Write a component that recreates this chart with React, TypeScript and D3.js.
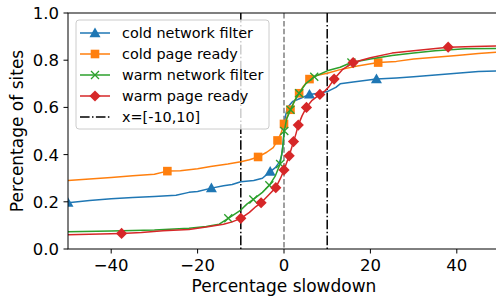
import * as d3 from 'd3';
import * as React from 'react';

type Pt = [number, number];

// cumulative share of sites against slowdown (%)
const coldNetwork: Pt[] = [
  [-50, 0.196], [-45, 0.205], [-40, 0.213], [-35, 0.218], [-30, 0.222], [-25, 0.228],
  [-22, 0.24], [-20, 0.244], [-16.8, 0.258], [-14, 0.268], [-12, 0.273], [-10, 0.285],
  [-7, 0.29], [-5, 0.3], [-3.2, 0.328], [-2, 0.345], [-1, 0.37], [-0.5, 0.4], [-0.2, 0.45],
  [0, 0.5], [0.3, 0.56], [0.8, 0.6], [2, 0.625], [4, 0.64], [5.9, 0.655], [8, 0.66],
  [10, 0.667], [12, 0.685], [13, 0.7], [16, 0.708], [21.4, 0.72], [26, 0.725], [30, 0.73],
  [35, 0.737], [40, 0.745], [45, 0.752], [50, 0.755],
];
const coldNetworkMarks = [0, 8, 14, 24, 30];

const coldPage: Pt[] = [
  [-50, 0.29], [-45, 0.297], [-40, 0.303], [-35, 0.31], [-30, 0.317], [-27, 0.33],
  [-24, 0.332], [-20, 0.34], [-17, 0.35], [-13, 0.36], [-10, 0.37], [-8, 0.378],
  [-6, 0.39], [-4, 0.41], [-2.5, 0.43], [-1.5, 0.46], [-0.7, 0.49], [0, 0.53], [0.7, 0.56],
  [1.5, 0.59], [2.5, 0.63], [3.5, 0.66], [4.5, 0.69], [5.9, 0.72], [7.5, 0.735], [10, 0.745],
  [13, 0.76], [17, 0.775], [21.8, 0.79], [26, 0.795], [30, 0.805], [35, 0.812], [40, 0.82],
  [45, 0.828], [50, 0.835],
];
const coldPageMarks = [5, 12, 15, 17, 19, 21, 23, 28];

const warmNetwork: Pt[] = [
  [-50, 0.073], [-40, 0.076], [-30, 0.08], [-22, 0.088], [-18, 0.095], [-15, 0.105],
  [-12.9, 0.13], [-10, 0.165], [-8.6, 0.19], [-7.1, 0.21], [-5, 0.24], [-3.4, 0.27],
  [-2, 0.31], [-0.9, 0.36], [-0.3, 0.43], [0.07, 0.5], [0.6, 0.55], [1.5, 0.59], [2.5, 0.63],
  [3.5, 0.66], [5, 0.7], [7, 0.73], [10, 0.755], [13, 0.77], [15.6, 0.79], [20, 0.805],
  [25, 0.82], [30, 0.83], [35, 0.84], [42, 0.848], [50, 0.85],
];
const warmNetworkMarks = [6, 9, 11, 13, 15, 17, 19, 21, 24];

const warmPage: Pt[] = [
  [-50, 0.06], [-45, 0.062], [-37.6, 0.066], [-33, 0.07], [-28, 0.077], [-22, 0.083],
  [-18, 0.093], [-14, 0.105], [-12, 0.115], [-10, 0.13], [-8, 0.155], [-6.5, 0.18],
  [-5.3, 0.196], [-3.5, 0.23], [-1.9, 0.26], [-0.8, 0.3], [0, 0.335], [0.5, 0.36],
  [1.2, 0.395], [1.7, 0.425], [2.2, 0.455], [2.8, 0.49], [3.3, 0.525], [4.2, 0.565],
  [5.2, 0.6], [6.5, 0.63], [8.3, 0.655], [9.5, 0.67], [10.5, 0.69], [11.6, 0.72],
  [13.5, 0.76], [16, 0.79], [20, 0.81], [25, 0.83], [30, 0.84], [38, 0.855], [44, 0.858],
  [50, 0.86],
];
const warmPageMarks = [2, 9, 12, 14, 16, 18, 20, 22, 24, 26, 29, 31, 35];

const seriesNames = ['cold network filter', 'cold page ready', 'warm network filter', 'warm page ready'];
const seriesColors = ['#1f77b4', '#ff7f0e', '#2ca02c', '#d62728'];
const seriesShapes = ['triangle', 'square', 'x', 'diamond'];
const boundsLabel = 'x=[-10,10]';
const bounds = [-10, 10];

const xTicks = [-40, -20, 0, 20, 40];
const yTicks = [0, 0.2, 0.4, 0.6, 0.8, 1.0];

const W = 496;
const H = 299;
const margin = { left: 68, top: 13, right: 500, bottom: 249 };
const font = 'DejaVu Sans, sans-serif';

function Marker({ shape, x, y, color }: { shape: string; x: number; y: number; color: string }) {
  if (shape === 'triangle') {
    const r = 5.5;
    return <path d={`M${x},${y - r}L${x + r},${y + r * 0.75}L${x - r},${y + r * 0.75}Z`} fill={color} />;
  }
  if (shape === 'square') {
    const r = 4.3;
    return <rect x={x - r} y={y - r} width={r * 2} height={r * 2} fill={color} />;
  }
  if (shape === 'diamond') {
    const r = 5.6;
    return <path d={`M${x},${y - r}L${x + r},${y}L${x},${y + r}L${x - r},${y}Z`} fill={color} />;
  }
  const r = 4;
  return (
    <path d={`M${x - r},${y - r}L${x + r},${y + r}M${x - r},${y + r}L${x + r},${y - r}`}
      stroke={color} strokeWidth={1.3} fill="none" />
  );
}

export default function App() {
  const x = d3.scaleLinear().domain([-50, 50]).range([margin.left, margin.right]);
  const y = d3.scaleLinear().domain([0, 1]).range([margin.bottom, margin.top]);
  const line = d3.line<Pt>().x((d) => x(d[0])).y((d) => y(d[1]));

  const series = [
    { data: coldNetwork, marks: coldNetworkMarks },
    { data: coldPage, marks: coldPageMarks },
    { data: warmNetwork, marks: warmNetworkMarks },
    { data: warmPage, marks: warmPageMarks },
  ];

  const legX = 76;
  const legY = 20;
  const rowH = 21;

  return (
    <svg width={W} height={H} style={{ position: 'absolute', left: 0, top: 0 }} fontFamily={font}>
      <defs>
        <clipPath id="plot">
          <rect x={margin.left} y={margin.top} width={margin.right - margin.left} height={margin.bottom - margin.top} />
        </clipPath>
      </defs>
      <rect width={W} height={H} fill="#fff" />
      <g clipPath="url(#plot)">
        <line x1={x(0)} x2={x(0)} y1={margin.top} y2={margin.bottom} stroke="#808080" strokeWidth={1.5} strokeDasharray="5.5,2.4" />
        {bounds.map((b) => (
          <line key={b} x1={x(b)} x2={x(b)} y1={margin.top} y2={margin.bottom} stroke="#000" strokeWidth={1.5} strokeDasharray="9.6,2.4,1.5,2.4" />
        ))}
        {series.map((s, i) => (
          <g key={i}>
            <path d={line(s.data) || ''} fill="none" stroke={seriesColors[i]} strokeWidth={1.5} strokeLinejoin="round" />
            {s.marks.map((m) => (
              <Marker key={m} shape={seriesShapes[i]} x={x(s.data[m][0])} y={y(s.data[m][1])} color={seriesColors[i]} />
            ))}
          </g>
        ))}
      </g>
      {/* spines */}
      <rect x={margin.left} y={margin.top} width={margin.right - margin.left} height={margin.bottom - margin.top} fill="none" stroke="#000" strokeWidth={1} />
      {xTicks.map((t) => (
        <g key={t} transform={`translate(${x(t)},${margin.bottom})`}>
          <line y2={4.5} stroke="#000" />
          <text y={22} textAnchor="middle" fontSize={16.5} fill="#000">{t < 0 ? `\u2212${-t}` : t}</text>
        </g>
      ))}
      {yTicks.map((t) => (
        <g key={t} transform={`translate(${margin.left},${y(t)})`}>
          <line x2={-4.5} stroke="#000" />
          <text x={-9} dy="0.36em" textAnchor="end" fontSize={16.5} fill="#000">{t.toFixed(1)}</text>
        </g>
      ))}
      <text x={(margin.left + margin.right) / 2} y={292} textAnchor="middle" fontSize={17} fill="#000">Percentage slowdown</text>
      <text transform={`translate(23,${(margin.top + margin.bottom) / 2}) rotate(-90)`} textAnchor="middle" fontSize={17} fill="#000">Percentage of sites</text>

      {/* legend */}
      <rect x={legX} y={legY} width={193} height={109} rx={3} fill="#fff" fillOpacity={0.8} stroke="#cccccc" />
      {seriesNames.map((n, i) => {
        const cy = legY + 13 + i * rowH;
        return (
          <g key={n}>
            <line x1={80} x2={110} y1={cy} y2={cy} stroke={seriesColors[i]} strokeWidth={1.5} />
            <Marker shape={seriesShapes[i]} x={95} y={cy} color={seriesColors[i]} />
            <text x={122} y={cy} dy="0.36em" fontSize={14.4} fill="#000">{n}</text>
          </g>
        );
      })}
      <line x1={80} x2={110} y1={legY + 13 + 4 * rowH} y2={legY + 13 + 4 * rowH} stroke="#000" strokeWidth={1.5} strokeDasharray="9.6,2.4,1.5,2.4" />
      <text x={122} y={legY + 13 + 4 * rowH} dy="0.36em" fontSize={14.4} fill="#000">{boundsLabel}</text>
    </svg>
  );
}
